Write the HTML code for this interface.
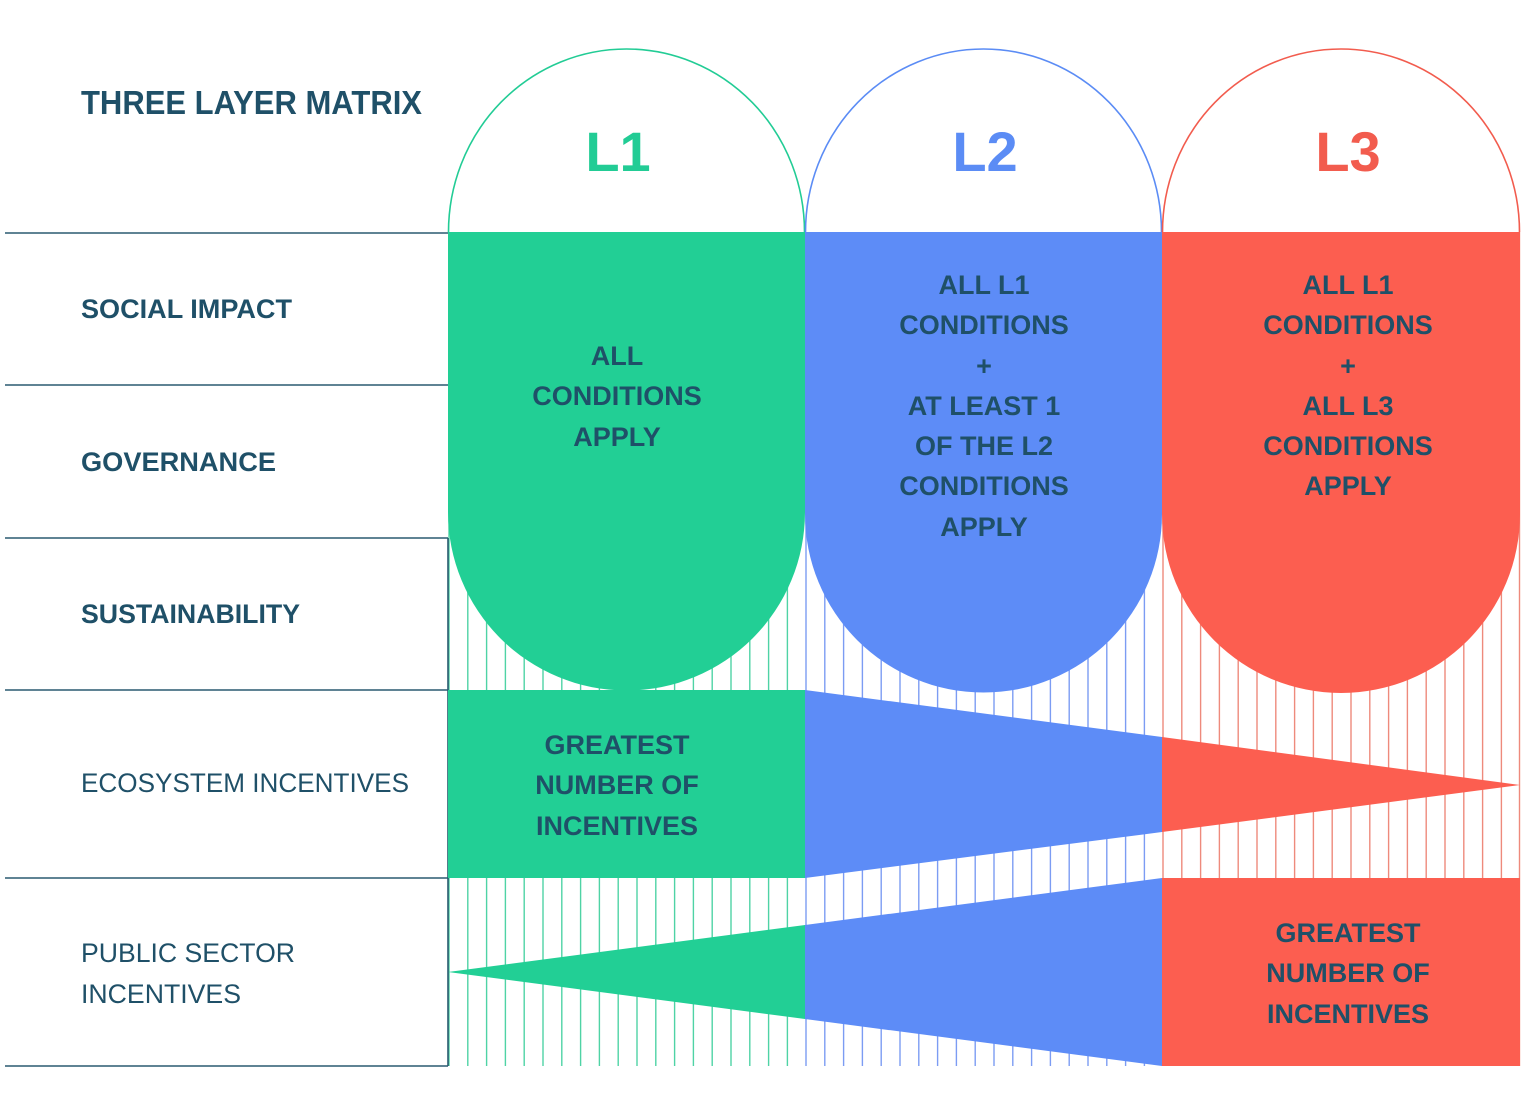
<!DOCTYPE html>
<html><head><meta charset="utf-8"><style>
html,body{margin:0;padding:0;background:#fff;}
svg{display:block;}
text{font-family:"Liberation Sans",sans-serif;fill:#1f5068;}
</style></head><body>
<svg width="1526" height="1114" viewBox="0 0 1526 1114" xmlns="http://www.w3.org/2000/svg">
<g id="lines" stroke-width="1.4">
<g stroke="#4fd3a5">
<line x1="449" y1="232" x2="449" y2="1066"/><line x1="467.8" y1="232" x2="467.8" y2="1066"/><line x1="486.6" y1="232" x2="486.6" y2="1066"/><line x1="505.4" y1="232" x2="505.4" y2="1066"/><line x1="524.2" y1="232" x2="524.2" y2="1066"/><line x1="543" y1="232" x2="543" y2="1066"/><line x1="561.8" y1="232" x2="561.8" y2="1066"/><line x1="580.6" y1="232" x2="580.6" y2="1066"/><line x1="599.4" y1="232" x2="599.4" y2="1066"/><line x1="618.2" y1="232" x2="618.2" y2="1066"/><line x1="637" y1="232" x2="637" y2="1066"/><line x1="655.8" y1="232" x2="655.8" y2="1066"/><line x1="674.6" y1="232" x2="674.6" y2="1066"/><line x1="693.4" y1="232" x2="693.4" y2="1066"/><line x1="712.2" y1="232" x2="712.2" y2="1066"/><line x1="731" y1="232" x2="731" y2="1066"/><line x1="749.8" y1="232" x2="749.8" y2="1066"/><line x1="768.6" y1="232" x2="768.6" y2="1066"/><line x1="787.4" y1="232" x2="787.4" y2="1066"/>
</g>
<g stroke="#7c9cf3">
<line x1="806" y1="232" x2="806" y2="1066"/><line x1="824.8" y1="232" x2="824.8" y2="1066"/><line x1="843.6" y1="232" x2="843.6" y2="1066"/><line x1="862.4" y1="232" x2="862.4" y2="1066"/><line x1="881.2" y1="232" x2="881.2" y2="1066"/><line x1="900" y1="232" x2="900" y2="1066"/><line x1="918.8" y1="232" x2="918.8" y2="1066"/><line x1="937.6" y1="232" x2="937.6" y2="1066"/><line x1="956.4" y1="232" x2="956.4" y2="1066"/><line x1="975.2" y1="232" x2="975.2" y2="1066"/><line x1="994" y1="232" x2="994" y2="1066"/><line x1="1012.8" y1="232" x2="1012.8" y2="1066"/><line x1="1031.6" y1="232" x2="1031.6" y2="1066"/><line x1="1050.4" y1="232" x2="1050.4" y2="1066"/><line x1="1069.2" y1="232" x2="1069.2" y2="1066"/><line x1="1088" y1="232" x2="1088" y2="1066"/><line x1="1106.8" y1="232" x2="1106.8" y2="1066"/><line x1="1125.6" y1="232" x2="1125.6" y2="1066"/><line x1="1144.4" y1="232" x2="1144.4" y2="1066"/>
</g>
<g stroke="#ee8a7c">
<line x1="1163" y1="232" x2="1163" y2="1066"/><line x1="1181.8" y1="232" x2="1181.8" y2="1066"/><line x1="1200.6" y1="232" x2="1200.6" y2="1066"/><line x1="1219.4" y1="232" x2="1219.4" y2="1066"/><line x1="1238.2" y1="232" x2="1238.2" y2="1066"/><line x1="1257" y1="232" x2="1257" y2="1066"/><line x1="1275.8" y1="232" x2="1275.8" y2="1066"/><line x1="1294.6" y1="232" x2="1294.6" y2="1066"/><line x1="1313.4" y1="232" x2="1313.4" y2="1066"/><line x1="1332.2" y1="232" x2="1332.2" y2="1066"/><line x1="1351" y1="232" x2="1351" y2="1066"/><line x1="1369.8" y1="232" x2="1369.8" y2="1066"/><line x1="1388.6" y1="232" x2="1388.6" y2="1066"/><line x1="1407.4" y1="232" x2="1407.4" y2="1066"/><line x1="1426.2" y1="232" x2="1426.2" y2="1066"/><line x1="1445" y1="232" x2="1445" y2="1066"/><line x1="1463.8" y1="232" x2="1463.8" y2="1066"/><line x1="1482.6" y1="232" x2="1482.6" y2="1066"/><line x1="1501.4" y1="232" x2="1501.4" y2="1066"/><line x1="1519.5" y1="232" x2="1519.5" y2="1066"/>
</g>
</g>
<g stroke="#2a5a70" stroke-width="1.6">
<line x1="5" y1="233" x2="448" y2="233"/>
<line x1="5" y1="385" x2="448" y2="385"/>
<line x1="5" y1="538" x2="448" y2="538"/>
<line x1="5" y1="690" x2="448" y2="690"/>
<line x1="5" y1="878" x2="448" y2="878"/>
<line x1="5" y1="1066" x2="448" y2="1066"/>
<line x1="448" y1="538" x2="448" y2="1066"/>
</g>
<path d="M448.5 232 A178 183 0 0 1 804.5 232" fill="none" stroke="#22cc95" stroke-width="1.6"/>
<path d="M805.5 232 A178 183 0 0 1 1161.5 232" fill="none" stroke="#5b8cf5" stroke-width="1.6"/>
<path d="M1162.5 232 A178.5 183 0 0 1 1519.5 232" fill="none" stroke="#f25c4e" stroke-width="1.6"/>
<path d="M448 232 H805 V512 A178.5 178.5 0 0 1 448 512 Z" fill="#22cf95"/>
<path d="M805 232 H1162 V514 A178.5 178.5 0 0 1 805 514 Z" fill="#5d8cf7"/>
<path d="M1162 232 H1520 V514 A179 179 0 0 1 1162 514 Z" fill="#fc5e50"/>
<rect x="448" y="690" width="357" height="188" fill="#22cf95"/>
<polygon points="805,690 1162,737 1162,832 805,878" fill="#5d8cf7"/>
<polygon points="1162,737 1520,785 1162,832" fill="#fc5e50"/>
<polygon points="448,972 805,925 805,1019" fill="#22cf95"/>
<polygon points="805,925 1162,878 1162,1066 805,1019" fill="#5d8cf7"/>
<rect x="1162" y="878" width="358" height="188" fill="#fc5e50"/>
<text x="81" y="114" font-size="33" font-weight="bold" textLength="341" lengthAdjust="spacingAndGlyphs">THREE LAYER MATRIX</text>
<text x="81" y="318" font-size="27" font-weight="bold" textLength="211" lengthAdjust="spacingAndGlyphs">SOCIAL IMPACT</text>
<text x="81" y="471" font-size="27" font-weight="bold" textLength="195" lengthAdjust="spacingAndGlyphs">GOVERNANCE</text>
<text x="81" y="623" font-size="27" font-weight="bold" textLength="219" lengthAdjust="spacingAndGlyphs">SUSTAINABILITY</text>
<text x="81" y="792" font-size="27" textLength="328" lengthAdjust="spacingAndGlyphs">ECOSYSTEM INCENTIVES</text>
<text x="81" y="962" font-size="27" textLength="214" lengthAdjust="spacingAndGlyphs">PUBLIC SECTOR</text>
<text x="81" y="1003" font-size="27" textLength="160" lengthAdjust="spacingAndGlyphs">INCENTIVES</text>
<text x="618" y="171" font-size="56" font-weight="bold" text-anchor="middle" style="fill:#22cc95">L1</text>
<text x="985" y="171" font-size="56" font-weight="bold" text-anchor="middle" style="fill:#5b8cf5">L2</text>
<text x="1348" y="171" font-size="56" font-weight="bold" text-anchor="middle" style="fill:#f25c4e">L3</text>
<g font-size="27" font-weight="bold" text-anchor="middle">
<text x="617" y="365">ALL</text>
<text x="617" y="405">CONDITIONS</text>
<text x="617" y="446">APPLY</text>
<text x="984" y="294">ALL L1</text>
<text x="984" y="334">CONDITIONS</text>
<text x="984" y="375">+</text>
<text x="984" y="415">AT LEAST 1</text>
<text x="984" y="455">OF THE L2</text>
<text x="984" y="495">CONDITIONS</text>
<text x="984" y="536">APPLY</text>
<text x="1348" y="294">ALL L1</text>
<text x="1348" y="334">CONDITIONS</text>
<text x="1348" y="375">+</text>
<text x="1348" y="415">ALL L3</text>
<text x="1348" y="455">CONDITIONS</text>
<text x="1348" y="495">APPLY</text>
<text x="617" y="754">GREATEST</text>
<text x="617" y="794">NUMBER OF</text>
<text x="617" y="835">INCENTIVES</text>
<text x="1348" y="942">GREATEST</text>
<text x="1348" y="982">NUMBER OF</text>
<text x="1348" y="1023">INCENTIVES</text>
</g>
</svg>
</body></html>
